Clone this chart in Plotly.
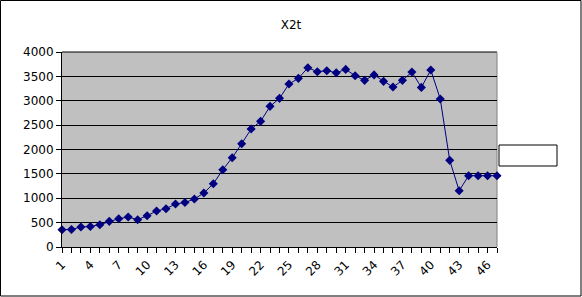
import plotly.graph_objects as go

categories = list(range(1, 48))
values = [355, 360, 410, 420, 457, 526, 581, 615, 560, 642,
          738, 786, 882, 912, 984, 1107, 1298, 1585, 1832, 2119,
          2420, 2577, 2885, 3049, 3343, 3459, 3678, 3596, 3616, 3575,
          3643, 3514, 3418, 3530, 3398, 3281, 3418, 3589, 3274, 3630,
          3036, 1777, 1155, 1463, 1463, 1463, 1463]
tick_labels = [str(c) for c in categories[::3]]
tick_vals = categories[::3]

W, H = 582, 297
ml, mr, mt, mb = 62, 85, 52, 50
pw, ph = W - ml - mr, H - mt - mb

def px_x(p):
    return (p - ml) / pw

def px_y(p):
    return (H - mb - p) / ph

fig = go.Figure()
fig.add_trace(go.Scatter(
    x=categories, y=values, mode="lines+markers",
    line=dict(color="#000080", width=1),
    marker=dict(symbol="diamond", size=7, color="#000080"),
    cliponaxis=False, showlegend=False,
))

font = dict(family="DejaVu Sans", size=12, color="black")
fig.update_layout(
    width=W, height=H,
    margin=dict(l=ml, r=mr, t=mt, b=mb),
    paper_bgcolor="white", plot_bgcolor="#C0C0C0",
    font=font,
    title=dict(text="X2t", x=0.5, xref="container", y=1 - 25 / H,
               yref="container", yanchor="middle", xanchor="center",
               font=font),
    xaxis=dict(range=[1, 47], tickvals=tick_vals, ticktext=tick_labels,
               tickangle=-45, ticks="outside", ticklen=5, tickcolor="black",
               showgrid=False, zeroline=False, showline=True,
               linecolor="black", linewidth=1, tickfont=font,
               minor=dict(dtick=1, tick0=1, ticks="outside", ticklen=5,
                          tickcolor="black", showgrid=False)),
    yaxis=dict(range=[0, 4000], dtick=500, ticks="outside", ticklen=5,
               tickcolor="black", showgrid=True, gridcolor="black",
               gridwidth=1, zeroline=False, showline=True,
               linecolor="black", linewidth=1, tickfont=font),
    shapes=[
        dict(type="rect", xref="paper", yref="paper",
             x0=px_x(0.5), x1=px_x(581), y0=px_y(296), y1=px_y(0.5),
             line=dict(color="black", width=1), fillcolor="rgba(0,0,0,0)",
             layer="below"),
        dict(type="line", xref="paper", yref="paper",
             x0=0, x1=1, y0=1, y1=1, layer="below",
             line=dict(color="black", width=1)),
        dict(type="line", xref="paper", yref="paper",
             x0=1, x1=1, y0=0, y1=1, layer="below",
             line=dict(color="#808080", width=1)),
        dict(type="rect", xref="paper", yref="paper",
             x0=px_x(499), x1=px_x(557), y0=px_y(166), y1=px_y(145),
             line=dict(color="black", width=1), fillcolor="white"),
    ],
)

fig.write_html("out.html")
